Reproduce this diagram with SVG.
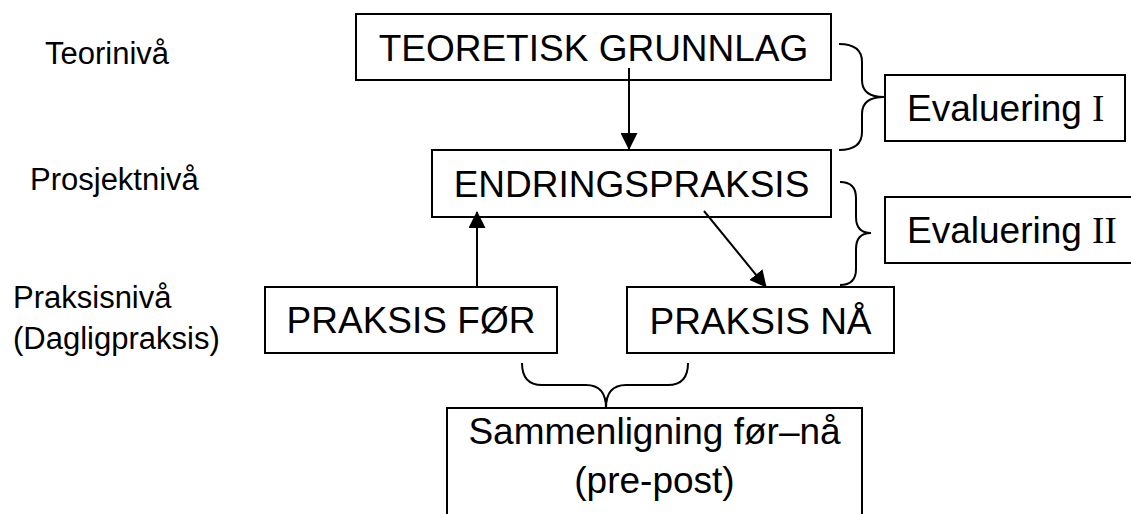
<svg xmlns="http://www.w3.org/2000/svg" width="1131" height="514" viewBox="0 0 1131 514">
<style>
.box{fill:#fff;stroke:#000;stroke-width:2}
.t{font-family:"Liberation Sans",Arial,sans-serif;font-size:37px;fill:#000}
.lbl{font-family:"Liberation Sans",Arial,sans-serif;font-size:31px;fill:#000}
.rom{font-family:"Liberation Serif","Times New Roman",serif}
.ln{fill:none;stroke:#000;stroke-width:2}
</style>
<defs>
<marker id="ah" markerUnits="userSpaceOnUse" markerWidth="17" markerHeight="17" viewBox="0 0 17 17" refX="16" refY="8.5" orient="auto">
<path d="M0,0 L17,8.5 L0,17 Z" fill="#000"/>
</marker>
</defs>
<rect width="1131" height="514" fill="#fff"/>
<g id="labels">
<text class="lbl" x="45" y="64">Teorinivå</text>
<text class="lbl" x="30" y="190">Prosjektnivå</text>
<text class="lbl" x="13" y="308">Praksisnivå</text>
<text class="lbl" x="13" y="349">(Dagligpraksis)</text>
</g>
<g id="teoretisk">
<rect class="box" x="356" y="14" width="475" height="66"/>
<text class="t" x="593.5" y="61" text-anchor="middle">TEORETISK GRUNNLAG</text>
</g>
<g id="endring">
<rect class="box" x="432" y="150" width="399" height="67"/>
<text class="t" x="631.5" y="197" text-anchor="middle">ENDRINGSPRAKSIS</text>
</g>
<g id="praksis-for">
<rect class="box" x="265" y="287" width="292" height="66"/>
<text class="t" x="411" y="333" text-anchor="middle">PRAKSIS FØR</text>
</g>
<g id="praksis-na">
<rect class="box" x="627" y="287" width="267" height="66"/>
<text class="t" x="760.5" y="334" text-anchor="middle">PRAKSIS NÅ</text>
</g>
<g id="evaluering1">
<rect class="box" x="885" y="75" width="240" height="66"/>
<text class="t" x="907" y="121">Evaluering <tspan class="rom">I</tspan></text>
</g>
<g id="evaluering2">
<rect class="box" x="885" y="197" width="260" height="66"/>
<text class="t" x="907" y="243">Evaluering <tspan class="rom">II</tspan></text>
</g>
<g id="sammenligning">
<rect class="box" x="447" y="408" width="415" height="120"/>
<text class="t" x="654.5" y="444" text-anchor="middle">Sammenligning før–nå</text>
<text class="t" x="654.5" y="493" text-anchor="middle">(pre-post)</text>
</g>
<g id="connectors">
<line class="ln" x1="629" y1="68" x2="629" y2="149" marker-end="url(#ah)"/>
<line class="ln" x1="477" y1="287" x2="477" y2="212" marker-end="url(#ah)"/>
<line class="ln" x1="704" y1="211" x2="766" y2="287" marker-end="url(#ah)"/>
<path class="ln" d="M839,44 Q862,44 862,62 L862,80 Q862,97 884,97 Q862,97 862,114 L862,132 Q862,150 839,150"/>
<path class="ln" d="M840,182 Q856,182 856,198 L856,217 Q856,233 871,233 Q856,233 856,249 L856,269 Q856,285 840,285"/>
<path class="ln" d="M522,363 Q522,385 542,385 L586,385 Q606,385 606,408 Q606,385 626,385 L668,385 Q688,385 688,363"/>
</g>
</svg>
